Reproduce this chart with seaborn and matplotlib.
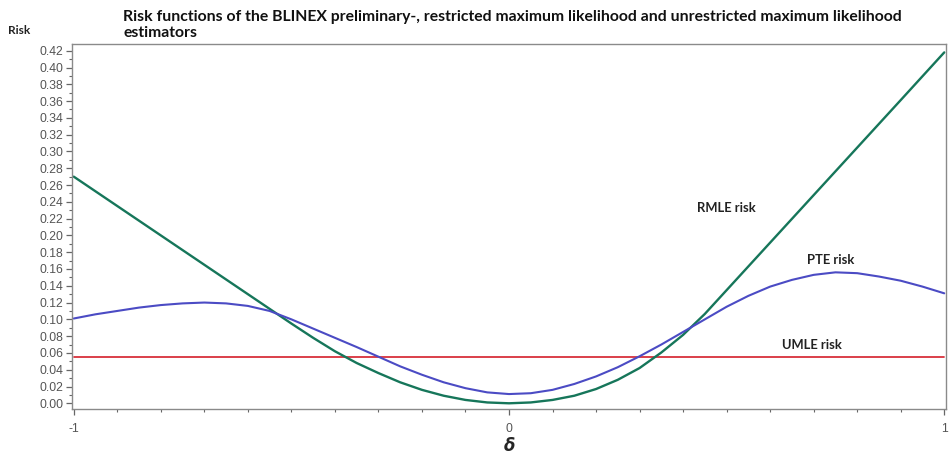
import numpy as np
import pandas as pd
import seaborn as sns
import matplotlib
matplotlib.use("Agg")
import matplotlib.pyplot as plt
from matplotlib.ticker import MultipleLocator, FixedLocator

# delta grid and risk values of the three estimators
delta = [-1.00, -0.95, -0.90, -0.85, -0.80, -0.75, -0.70, -0.65, -0.60, -0.55,
         -0.50, -0.45, -0.40, -0.35, -0.30, -0.25, -0.20, -0.15, -0.10, -0.05,
         0.00, 0.05, 0.10, 0.15, 0.20, 0.25, 0.30, 0.35, 0.40, 0.45,
         0.50, 0.55, 0.60, 0.65, 0.70, 0.75, 0.80, 0.85, 0.90, 0.95, 1.00]

rmle_risk = [0.2700, 0.2525, 0.2350, 0.2175, 0.2000, 0.1825, 0.1650, 0.1475, 0.1300, 0.1125,
             0.0950, 0.0780, 0.0620, 0.0480, 0.0360, 0.0250, 0.0160, 0.0090, 0.0040, 0.0010,
             0.0000, 0.0010, 0.0040, 0.0090, 0.0170, 0.0280, 0.0420, 0.0605, 0.0815, 0.1065,
             0.1348, 0.1631, 0.1914, 0.2197, 0.2480, 0.2763, 0.3046, 0.3329, 0.3612, 0.3896, 0.4180]

pte_risk = [0.101, 0.106, 0.110, 0.114, 0.117, 0.119, 0.120, 0.119, 0.116, 0.110,
            0.100, 0.089, 0.078, 0.067, 0.0555, 0.044, 0.034, 0.025, 0.018, 0.013,
            0.011, 0.012, 0.016, 0.023, 0.032, 0.043, 0.056, 0.070, 0.085, 0.100,
            0.115, 0.128, 0.139, 0.147, 0.153, 0.156, 0.155, 0.151, 0.146, 0.139, 0.131]

umle_risk = [0.0555] * len(delta)

y_ticks = [0.00, 0.02, 0.04, 0.06, 0.08, 0.10, 0.12, 0.14, 0.16, 0.18, 0.20,
           0.22, 0.24, 0.26, 0.28, 0.30, 0.32, 0.34, 0.36, 0.38, 0.40, 0.42]
x_ticks = [-1, 0, 1]

df = pd.DataFrame({"delta": delta, "RMLE": rmle_risk, "PTE": pte_risk, "UMLE": umle_risk})

sns.set_theme(style="white")
plt.rcParams["font.family"] = ["Liberation Sans", "DejaVu Sans"]

fig = plt.figure(figsize=(9.49, 4.59), dpi=100)
ax = fig.add_axes([72 / 949, 1 - 409 / 459, (946 - 72) / 949, (409 - 44) / 459])

green = "#16765a"
blue = "#4b4bc4"
red = "#d8303c"

sns.lineplot(data=df, x="delta", y="UMLE", ax=ax, color=red, linewidth=1.3)
sns.lineplot(data=df, x="delta", y="RMLE", ax=ax, color=green, linewidth=1.7)
sns.lineplot(data=df, x="delta", y="PTE", ax=ax, color=blue, linewidth=1.5)

ax.set_xlim(-1.004, 1.004)
ax.set_ylim(-0.0068, 0.428)

ax.yaxis.set_major_locator(FixedLocator(y_ticks))
ax.yaxis.set_minor_locator(MultipleLocator(0.01))
ax.set_yticklabels([f"{v:.2f}" for v in y_ticks])
ax.xaxis.set_major_locator(FixedLocator(x_ticks))
ax.xaxis.set_minor_locator(MultipleLocator(0.1))
ax.set_xticklabels([str(v) for v in x_ticks])

tick_col = "#555555"
ax.tick_params(axis="both", which="both", bottom=True, left=True, top=False, right=False)
ax.tick_params(axis="both", which="major", direction="out", length=4, width=0.9,
               color="#666666", labelcolor=tick_col, labelsize=8.8)
ax.tick_params(axis="both", which="minor", direction="out", length=2.5, width=0.8,
               color="#666666")
ax.tick_params(axis="x", which="major", pad=6)
ax.tick_params(axis="y", which="major", pad=2)
for sp in ax.spines.values():
    sp.set_color("#8a8a8a")
    sp.set_linewidth(1.0)

ax.set_xlabel("")
ax.set_ylabel("")

# axis captions
fig.text(509 / 949, 1 - 446 / 459, r"$\boldsymbol{\delta}$", ha="center", va="center",
         fontsize=12, family="DejaVu Serif", fontstyle="italic", fontweight="bold")
fig.text(8 / 949, 1 - 31 / 459, "Risk", ha="left", va="center", fontsize=8.5,
         fontweight="bold", family="Lato", color="#222222")

# title
fig.text(123 / 949, 1 - 25 / 459,
         "Risk functions of the BLINEX preliminary-, restricted maximum likelihood and unrestricted maximum likelihood\nestimators",
         ha="left", va="center", fontsize=11.3, fontweight="bold", family="Lato",
         color="#111111", linespacing=1.25)

# curve labels
lab_kw = dict(ha="center", va="center", fontsize=9.4, fontweight="bold", family="Lato",
              color="#222222")
ax.text(0.50, 0.233, "RMLE risk", **lab_kw)
ax.text(0.74, 0.1705, "PTE risk", **lab_kw)
ax.text(0.695, 0.0695, "UMLE risk", **lab_kw)

fig.savefig("out.png", dpi=100, facecolor="white")
